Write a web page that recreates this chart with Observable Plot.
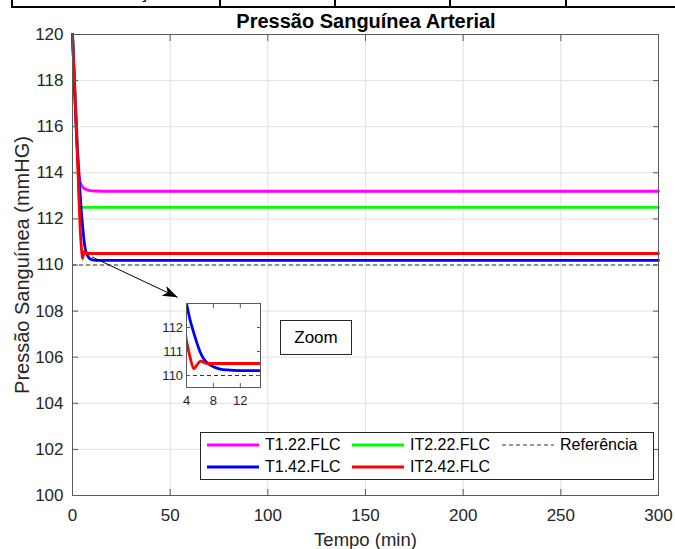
<!DOCTYPE html>
<html><head><meta charset="utf-8">
<script src="https://cdn.jsdelivr.net/npm/d3@7"></script>
<script src="https://cdn.jsdelivr.net/npm/@observablehq/plot@0.6"></script>
<style>
body{margin:0;background:#fff;}
#wrap{position:relative;width:675px;height:549px;overflow:hidden;font-family:"Liberation Sans",Arial,sans-serif;color:#262626;}
#wrap svg{display:block;}
.abs{position:absolute;}
</style></head><body><div id="wrap"></div>
<script>
// ---------- data ----------
const xTicks = [0, 50, 100, 150, 200, 250, 300];
const yTicks = [100, 102, 104, 106, 108, 110, 112, 114, 116, 118, 120];
const insetXTicks = [4, 8, 12];
const insetYTicks = [110, 111, 112];
const seriesNames = ["T1.22.FLC", "IT2.22.FLC", "T1.42.FLC", "IT2.42.FLC"];
const seriesColors = ["#ff00ff", "#00ff00", "#0000ff", "#ff0000"];
const refName = "Referência";
const refValue = [110];

const tT122 = [0, 1, 2, 3, 3.7, 4.5, 5.4, 7, 9, 12, 20, 300];
const vT122 = [120, 118.1, 116.2, 114.4, 113.67, 113.48, 113.37, 113.28, 113.23, 113.21, 113.2, 113.2];
const tIT222 = [0, 1, 2, 3, 3.7, 300];
const vIT222 = [120, 118, 116, 113.9, 112.5, 112.5];
const tT142 = [0, 1, 2, 3, 4, 4.5, 5, 5.5, 6, 6.5, 7, 8, 9, 10, 12, 15, 300];
const vT142 = [120, 117.7, 115.7, 114.2, 113.0, 112.35, 111.85, 111.4, 111.0, 110.72, 110.55, 110.36, 110.27, 110.23, 110.2, 110.2, 110.2];
const tIT242 = [0, 1, 2, 3, 4, 4.5, 5.1, 5.5, 6.1, 6.8, 7.5, 300];
const vIT242 = [120, 117.9, 115.8, 113.6, 111.45, 110.8, 110.28, 110.42, 110.6, 110.52, 110.5, 110.5];

const arrowStart = [10, 110.35];
const arrowEnd = [53.8, 108.6];

const titleText = "Pressão Sanguínea Arterial";
const xLabel = "Tempo (min)";
const yLabel = "Pressão Sanguínea (mmHG)";
const zoomText = "Zoom";
const tableCell = "Classificação";

// ---------- build ----------
const seriesT = [tT122, tIT222, tT142, tIT242];
const seriesV = [vT122, vIT222, vT142, vIT242];
const rows = [];
seriesNames.forEach((name, i) => seriesT[i].forEach((t, j) => rows.push({name, t, v: seriesV[i][j]})));
const insetRows = rows.filter(d => d.name === seriesNames[2] || d.name === seriesNames[3]);

const W = 675, H = 549;
const mL = 72, mR = 17, mT = 34, mB = 54;
const kx = (W - mL - mR) / (xTicks[xTicks.length-1] - xTicks[0]);
const ky = (H - mT - mB) / (yTicks[yTicks.length-1] - yTicks[0]);
const headAngle = Math.atan2((arrowEnd[0]-arrowStart[0])*kx, (arrowEnd[1]-arrowStart[1])*ky) * 180 / Math.PI;
const arrowHead = {draw(ctx){ ctx.moveTo(0,0); ctx.lineTo(-5.5,15); ctx.lineTo(0,11); ctx.lineTo(5.5,15); ctx.closePath(); }};

const font = "Liberation Sans, Arial, sans-serif";
const color = {domain: seriesNames, range: seriesColors};
const blank = () => "";

const main = Plot.plot({
  width: W, height: H,
  marginLeft: mL, marginRight: mR, marginTop: mT, marginBottom: mB,
  x: {domain: [xTicks[0], xTicks[xTicks.length-1]], label: null},
  y: {domain: [yTicks[0], yTicks[yTicks.length-1]], label: null},
  color,
  style: {fontFamily: font, fontSize: "17px", color: "#262626", background: "transparent", overflow: "visible"},
  marks: [
    Plot.gridX(xTicks, {stroke: "#e2e2e2", strokeOpacity: 1}),
    Plot.gridY(yTicks, {stroke: "#e2e2e2", strokeOpacity: 1}),
    Plot.ruleY(refValue, {stroke: "#333", strokeWidth: 1, strokeDasharray: "4,3"}),
    Plot.line(rows, {x: "t", y: "v", z: "name", stroke: "name", strokeWidth: 2.8, strokeLinejoin: "round", curve: "monotone-x"}),
    Plot.link([0], {x1: () => arrowStart[0], y1: () => arrowStart[1], x2: () => arrowEnd[0], y2: () => arrowEnd[1], stroke: "#000", strokeWidth: 1}),
    Plot.dot([0], {x: () => arrowEnd[0], y: () => arrowEnd[1], symbol: arrowHead, r: 5, fill: "#000", stroke: "none", rotate: headAngle}),
    Plot.frame({stroke: "#5a5a5a", strokeWidth: 1}),
    Plot.axisX(xTicks, {anchor: "bottom", tickSize: -6, tickPadding: 19, stroke: "#5a5a5a", fontSize: 17}),
    Plot.axisX(xTicks, {anchor: "top", tickSize: -6, tickFormat: blank, stroke: "#5a5a5a"}),
    Plot.axisY(yTicks, {anchor: "left", tickSize: -6, tickPadding: 15, stroke: "#5a5a5a", fontSize: 17}),
    Plot.axisY(yTicks, {anchor: "right", tickSize: -6, tickFormat: blank, stroke: "#5a5a5a"}),
    Plot.text([xLabel], {frameAnchor: "bottom", lineAnchor: "middle", textAnchor: "middle", dy: 45, fontSize: 18.5, fill: "#262626"}),
    Plot.text([yLabel], {frameAnchor: "left", textAnchor: "middle", lineAnchor: "middle", dx: -50, rotate: -90, fontSize: 20, fill: "#262626"})
  ]
});

const iL = 32, iR = 3, iT = 3, iB = 22, iW = 74, iH = 84;
const inset = Plot.plot({
  width: iL + iW + iR, height: iT + iH + iB,
  marginLeft: iL, marginRight: iR, marginTop: iT, marginBottom: iB,
  x: {domain: [4, 15], label: null},
  y: {domain: [109.5, 113], label: null},
  color,
  style: {fontFamily: font, fontSize: "13px", color: "#262626", background: "transparent", overflow: "visible"},
  marks: [
    Plot.frame({fill: "#fff", stroke: "none"}),
    Plot.ruleY(refValue, {stroke: "#333", strokeWidth: 1, strokeDasharray: "4,3"}),
    Plot.line(insetRows, {x: "t", y: "v", z: "name", stroke: "name", strokeWidth: 2.8, strokeLinejoin: "round", curve: "monotone-x", clip: true}),
    Plot.frame({stroke: "#5a5a5a", strokeWidth: 1}),
    Plot.axisX(insetXTicks, {anchor: "bottom", tickSize: -4, tickPadding: 12, stroke: "#5a5a5a", fontSize: 13}),
    Plot.axisX(insetXTicks, {anchor: "top", tickSize: -4, tickFormat: blank, stroke: "#5a5a5a"}),
    Plot.axisY(insetYTicks, {anchor: "left", tickSize: -4, tickPadding: 7.4, stroke: "#5a5a5a", fontSize: 13}),
    Plot.axisY(insetYTicks, {anchor: "right", tickSize: -4, tickFormat: blank, stroke: "#5a5a5a"})
  ]
});

const wrap = document.getElementById("wrap");
main.classList.add("abs"); main.style.left = "0px"; main.style.top = "0px";
wrap.appendChild(main);

// table fragment at the very top
const table = document.createElement("div");
table.className = "abs";
table.style.cssText = "left:0;top:0;width:675px;height:8px;overflow:hidden;";
const cellEdges = [12, 220, 335, 450, 566];
cellEdges.forEach(x => {
  const v = document.createElement("div");
  v.className = "abs";
  v.style.cssText = `left:${x-1}px;top:0;width:2px;height:8px;background:#000;`;
  table.appendChild(v);
});
const hline = document.createElement("div");
hline.className = "abs";
hline.style.cssText = "left:11px;top:6px;width:664px;height:2px;background:#000;";
table.appendChild(hline);
const cellText = document.createElement("div");
cellText.className = "abs";
cellText.style.cssText = "left:12px;width:208px;top:-17px;text-align:center;font:bold 18px 'Liberation Serif','Times New Roman',serif;line-height:18px;color:#000;white-space:nowrap;";
cellText.textContent = tableCell;
table.appendChild(cellText);
wrap.appendChild(table);

// title
const title = document.createElement("div");
title.className = "abs";
title.style.cssText = "left:366px;top:11px;transform:translateX(-50%);font-weight:bold;font-size:20px;line-height:20px;color:#000;white-space:nowrap;";
title.textContent = titleText;
wrap.appendChild(title);

// inset
inset.classList.add("abs");
inset.style.left = (186 - iL) + "px";
inset.style.top = (303 - iT) + "px";
wrap.appendChild(inset);

// zoom box
const zoom = document.createElement("div");
zoom.className = "abs";
zoom.style.cssText = "left:280px;top:320px;width:70px;height:33px;border:1px solid #262626;background:#fff;text-align:center;line-height:33px;font-size:17px;color:#000;";
zoom.textContent = zoomText;
wrap.appendChild(zoom);

// legend
const legend = document.createElement("div");
legend.className = "abs";
legend.style.cssText = "left:200px;top:432px;width:452px;height:46px;border:1px solid #262626;background:#fff;font-size:16px;color:#000;";
const legendItems = [
  {name: seriesNames[0], color: seriesColors[0], col: 0, row: 0},
  {name: seriesNames[1], color: seriesColors[1], col: 1, row: 0},
  {name: refName, color: "#333", col: 2, row: 0, dashed: true},
  {name: seriesNames[2], color: seriesColors[2], col: 0, row: 1},
  {name: seriesNames[3], color: seriesColors[3], col: 1, row: 1}
];
const colX = [6, 151, 301];
const rowY = [12, 34];
legendItems.forEach(it => {
  const s = document.createElementNS("http://www.w3.org/2000/svg", "svg");
  s.setAttribute("width", 52); s.setAttribute("height", 6);
  s.setAttribute("class", "abs");
  s.style.left = colX[it.col] + "px"; s.style.top = (rowY[it.row] - 3) + "px";
  const l = document.createElementNS("http://www.w3.org/2000/svg", "line");
  l.setAttribute("x1", 0); l.setAttribute("x2", 52); l.setAttribute("y1", 3); l.setAttribute("y2", 3);
  l.setAttribute("stroke", it.color);
  l.setAttribute("stroke-width", it.dashed ? 1 : 2.8);
  if (it.dashed) l.setAttribute("stroke-dasharray", "4,3");
  s.appendChild(l);
  legend.appendChild(s);
  const t = document.createElement("div");
  t.className = "abs";
  t.style.cssText = `left:${colX[it.col] + 58}px;top:${rowY[it.row] - 9}px;line-height:18px;white-space:nowrap;`;
  t.textContent = it.name;
  legend.appendChild(t);
});
wrap.appendChild(legend);
</script>
</body></html>
